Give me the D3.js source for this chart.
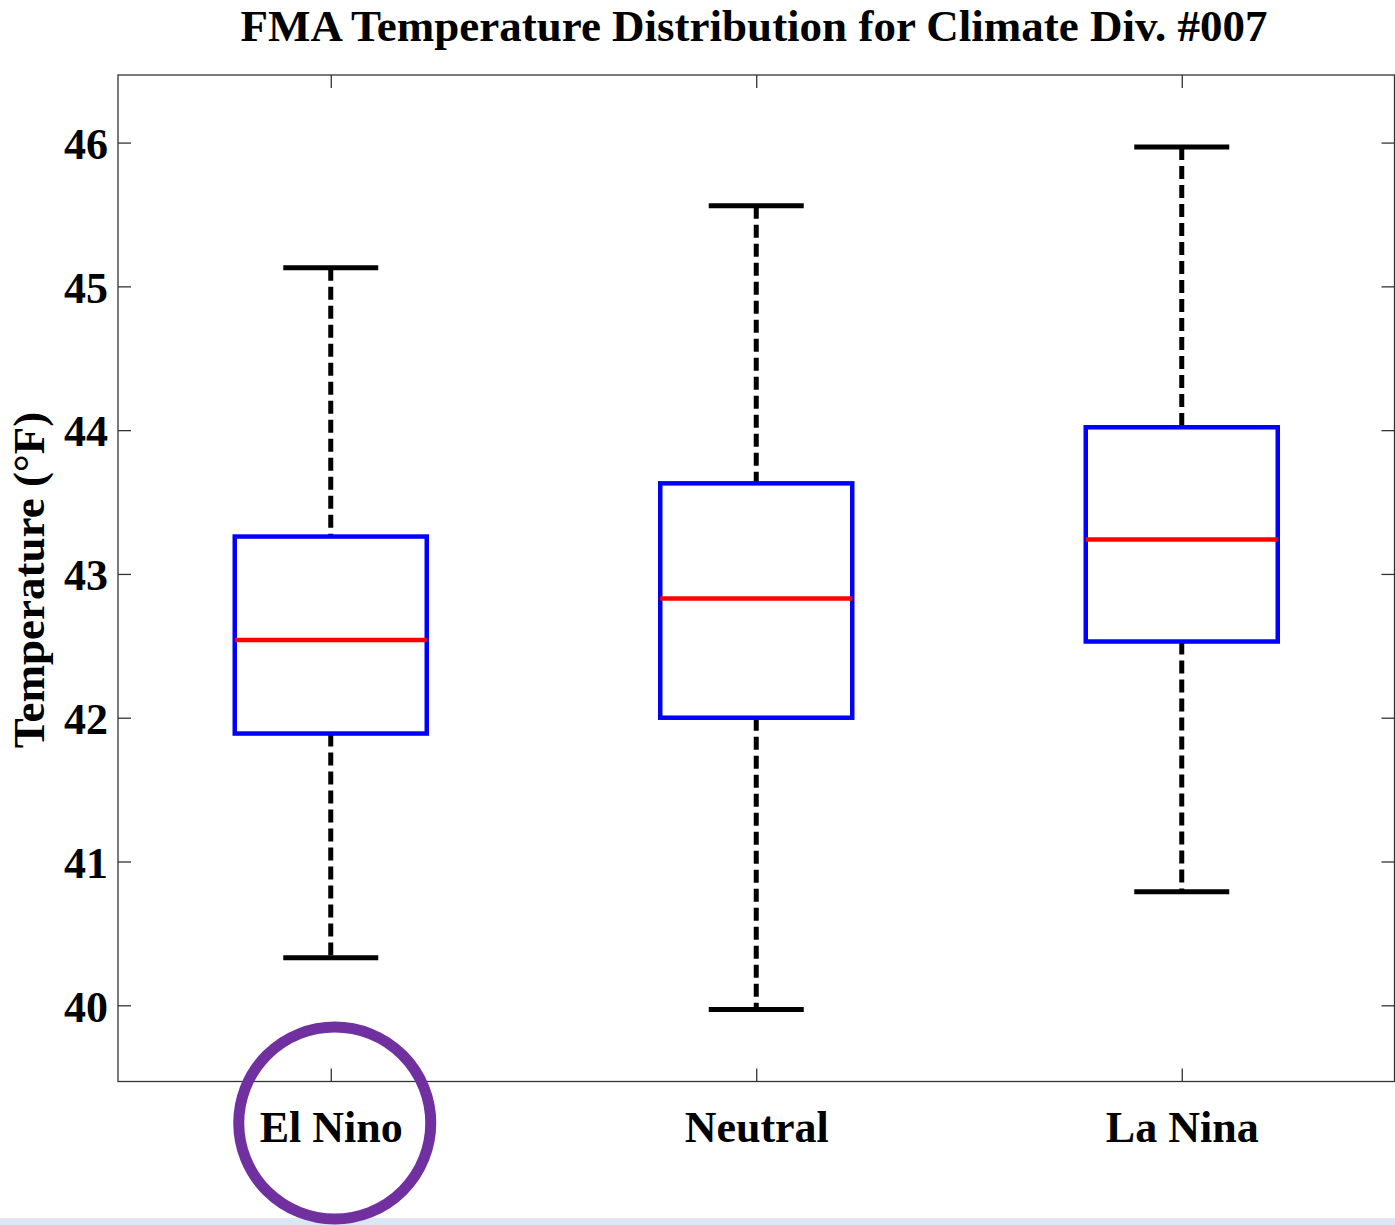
<!DOCTYPE html>
<html>
<head>
<meta charset="utf-8">
<script src="https://cdn.jsdelivr.net/npm/d3@7"></script>
<style>
  html, body { margin: 0; padding: 0; background: #fff; }
  svg { display: block; }
  text { font-family: "Liberation Serif", "Times New Roman", serif; font-weight: bold; fill: #000; }
</style>
</head>
<body>
<script>
// ---- data ----
const categories = ["El Nino", "Neutral", "La Nina"];
const whiskerLow  = [40.33, 39.97, 40.79];
const q1          = [41.89, 42.00, 42.53];
const median      = [42.54, 42.83, 43.24];
const q3          = [43.26, 43.63, 44.02];
const whiskerHigh = [45.13, 45.56, 45.97];
const yTicks = [40, 41, 42, 43, 44, 45, 46];
const titleText = "FMA Temperature Distribution for Climate Div. #007";
const yLabel = "Temperature (°F)";
const highlighted = "El Nino";

(function () {
const W = 1395, H = 1225;
const mLeft = 118, mRight = 1394.5, mTop = 75, mBottom = 1081.5;

const svg = d3.select("body").append("svg").attr("width", W).attr("height", H);

// bottom light strip
svg.append("rect").attr("x", 0).attr("y", 1218).attr("width", W).attr("height", H - 1218).attr("fill", "#dfe6f3");

const x = d3.scaleLinear().domain([0.5, 3.5]).range([mLeft, mRight]);
const y = d3.scaleLinear().domain([39.47, 46.47]).range([mBottom, mTop]);

const boxHalf = 96, capHalf = 47.5;

// axes frame
svg.append("rect").attr("x", mLeft).attr("y", mTop).attr("width", mRight - mLeft).attr("height", mBottom - mTop)
  .attr("fill", "none").attr("stroke", "#333").attr("stroke-width", 1.3);

const styleTickText = (sel) => sel.style("font-size", "44px").style("font-family", '"Liberation Serif", serif').style("font-weight", "bold").attr("fill", "#000");

// y ticks (left and right, inward)
const yAxisL = d3.axisLeft(y).tickValues(yTicks).tickSizeInner(-13).tickSizeOuter(0).tickFormat(d3.format("d"));
const gL = svg.append("g").attr("transform", `translate(${mLeft},0)`).call(yAxisL);
gL.select(".domain").remove();
gL.selectAll(".tick line").attr("stroke", "#333").attr("stroke-width", 1.3);
gL.selectAll(".tick text").attr("x", -10).attr("dy", "0.36em").call(styleTickText);

const yAxisR = d3.axisRight(y).tickValues(yTicks).tickSizeInner(-13).tickSizeOuter(0).tickFormat("");
const gR = svg.append("g").attr("transform", `translate(${mRight},0)`).call(yAxisR);
gR.select(".domain").remove();
gR.selectAll(".tick line").attr("stroke", "#333").attr("stroke-width", 1.3);

// x ticks (bottom and top, inward)
const xAxisB = d3.axisBottom(x).tickValues([1, 2, 3]).tickSizeInner(-13).tickSizeOuter(0).tickFormat((d) => categories[d - 1]);
const gB = svg.append("g").attr("transform", `translate(0,${mBottom})`).call(xAxisB);
gB.select(".domain").remove();
gB.selectAll(".tick line").attr("stroke", "#333").attr("stroke-width", 1.3);
gB.selectAll(".tick text").attr("y", 60).attr("dy", 0).call(styleTickText);

const xAxisT = d3.axisTop(x).tickValues([1, 2, 3]).tickSizeInner(-13).tickSizeOuter(0).tickFormat("");
const gT = svg.append("g").attr("transform", `translate(0,${mTop})`).call(xAxisT);
gT.select(".domain").remove();
gT.selectAll(".tick line").attr("stroke", "#333").attr("stroke-width", 1.3);

// box data
const data = categories.map((c, i) => ({ c, i: i + 1, lo: whiskerLow[i], q1: q1[i], med: median[i], q3: q3[i], hi: whiskerHigh[i] }));

const g = svg.append("g");
// whiskers dashed
g.selectAll(".wu").data(data).join("line").attr("class", "wu")
  .attr("x1", (d) => x(d.i)).attr("x2", (d) => x(d.i))
  .attr("y1", (d) => y(d.hi)).attr("y2", (d) => y(d.q3))
  .attr("stroke", "#000").attr("stroke-width", 5).attr("stroke-dasharray", "13,6");
g.selectAll(".wl").data(data).join("line").attr("class", "wl")
  .attr("x1", (d) => x(d.i)).attr("x2", (d) => x(d.i))
  .attr("y1", (d) => y(d.q1)).attr("y2", (d) => y(d.lo))
  .attr("stroke", "#000").attr("stroke-width", 5).attr("stroke-dasharray", "13,6");
// caps
g.selectAll(".cu").data(data).join("line").attr("class", "cu")
  .attr("x1", (d) => x(d.i) - capHalf).attr("x2", (d) => x(d.i) + capHalf)
  .attr("y1", (d) => y(d.hi)).attr("y2", (d) => y(d.hi))
  .attr("stroke", "#000").attr("stroke-width", 5);
g.selectAll(".cl").data(data).join("line").attr("class", "cl")
  .attr("x1", (d) => x(d.i) - capHalf).attr("x2", (d) => x(d.i) + capHalf)
  .attr("y1", (d) => y(d.lo)).attr("y2", (d) => y(d.lo))
  .attr("stroke", "#000").attr("stroke-width", 5);
// boxes
g.selectAll(".box").data(data).join("rect").attr("class", "box")
  .attr("x", (d) => x(d.i) - boxHalf).attr("width", boxHalf * 2)
  .attr("y", (d) => y(d.q3)).attr("height", (d) => y(d.q1) - y(d.q3))
  .attr("fill", "#fff").attr("stroke", "#0000ff").attr("stroke-width", 4.5);
// medians
g.selectAll(".med").data(data).join("line").attr("class", "med")
  .attr("x1", (d) => x(d.i) - boxHalf).attr("x2", (d) => x(d.i) + boxHalf)
  .attr("y1", (d) => y(d.med)).attr("y2", (d) => y(d.med))
  .attr("stroke", "#ff0000").attr("stroke-width", 4.5);

// title
svg.append("text").attr("x", 754).attr("y", 41).attr("text-anchor", "middle")
  .style("font-size", "45px").text(titleText);

// y label
svg.append("text").attr("transform", `translate(44,${580}) rotate(-90)`)
  .attr("text-anchor", "middle").style("font-size", "45px").text(yLabel);

// highlight circle
const hi = categories.indexOf(highlighted) + 1;
svg.append("circle").attr("cx", x(hi) + 4).attr("cy", 1123).attr("r", 96)
  .attr("fill", "none").attr("stroke", "#7030a0").attr("stroke-width", 11);
})();
</script>
</body>
</html>
